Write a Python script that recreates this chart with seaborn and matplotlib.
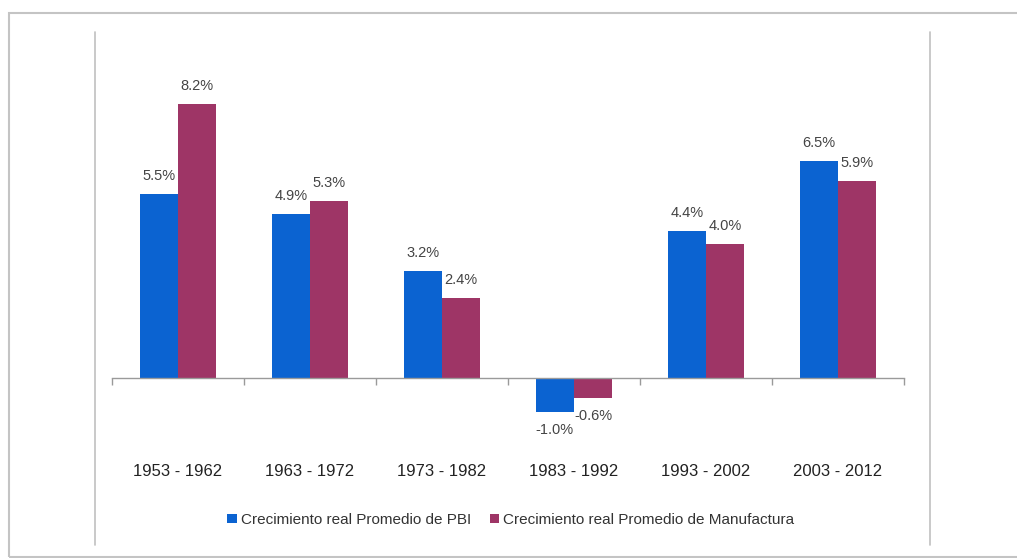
import matplotlib
matplotlib.use("Agg")
import matplotlib.pyplot as plt
from matplotlib.lines import Line2D
from matplotlib.patches import Rectangle
import seaborn as sns
import pandas as pd

periodos = ["1953 - 1962", "1963 - 1972", "1973 - 1982", "1983 - 1992", "1993 - 2002", "2003 - 2012"]
pbi = [5.5, 4.9, 3.2, -1.0, 4.4, 6.5]
manufactura = [8.2, 5.3, 2.4, -0.6, 4.0, 5.9]
series = ["Crecimiento real Promedio de PBI", "Crecimiento real Promedio de Manufactura"]
colores = ["#0b63d1", "#9e3566"]

df = pd.DataFrame({
    "periodo": periodos * 2,
    "valor": pbi + manufactura,
    "serie": [series[0]] * len(periodos) + [series[1]] * len(periodos),
})

sns.set_theme(style="white")
plt.rcParams["font.family"] = ["Liberation Sans", "DejaVu Sans"]

W, H = 1017, 558
fig = plt.figure(figsize=(W / 100, H / 100), dpi=100)
ax = fig.add_axes([112 / W, 1 - 445 / H, 792 / W, 368 / H])

sns.barplot(data=df, x="periodo", y="valor", hue="serie", palette=colores,
            width=0.58, saturation=1, ax=ax, order=periodos, hue_order=series,
            linewidth=0)

ax.set_xlim(-0.5, len(periodos) - 0.5)
ax.set_ylim(-2, 9)
ax.set_xlabel("")
ax.set_ylabel("")
ax.set_yticks([])
for s in ["top", "left", "right"]:
    ax.spines[s].set_visible(False)
ax.spines["bottom"].set_position(("data", 0))
ax.spines["bottom"].set_color("#9a9a9a")
ax.spines["bottom"].set_linewidth(1.0)

ax.set_xticks(range(len(periodos)))
ax.set_xticklabels(periodos, fontsize=12, color="#222222")
ax.set_xticks([i - 0.5 for i in range(len(periodos) + 1)], minor=True)
ax.tick_params(axis="x", which="major", length=0, pad=62)
ax.tick_params(axis="x", which="minor", length=5, width=1, color="#9a9a9a", direction="out", bottom=True)

for cont in ax.containers:
    ax.bar_label(cont, fmt="%.1f%%", padding=8, fontsize=10.5, color="#444444")

leg = ax.get_legend()
handles, labels = ax.get_legend_handles_labels()
if leg is not None:
    leg.remove()
fig.legend(handles, labels, loc="center", bbox_to_anchor=(511 / W, 1 - 520 / H), ncol=2,
           frameon=False, fontsize=11, handlelength=0.6, handleheight=0.6,
           handletextpad=0.3, columnspacing=1.2, labelcolor="#333333")

def fx(x):
    return x / W

def fy(y):
    return 1 - y / H

fig.add_artist(Rectangle((fx(9), fy(557)), fx(1030) - fx(9), fy(13) - fy(557),
                         transform=fig.transFigure, fill=False, edgecolor="#c4c4c4", lw=1.5))
for xv in [95, 930]:
    fig.add_artist(Line2D([fx(xv), fx(xv)], [fy(32), fy(545)], transform=fig.transFigure,
                          color="#c0c0c0", lw=1.2))

fig.savefig("out.png", dpi=100)
